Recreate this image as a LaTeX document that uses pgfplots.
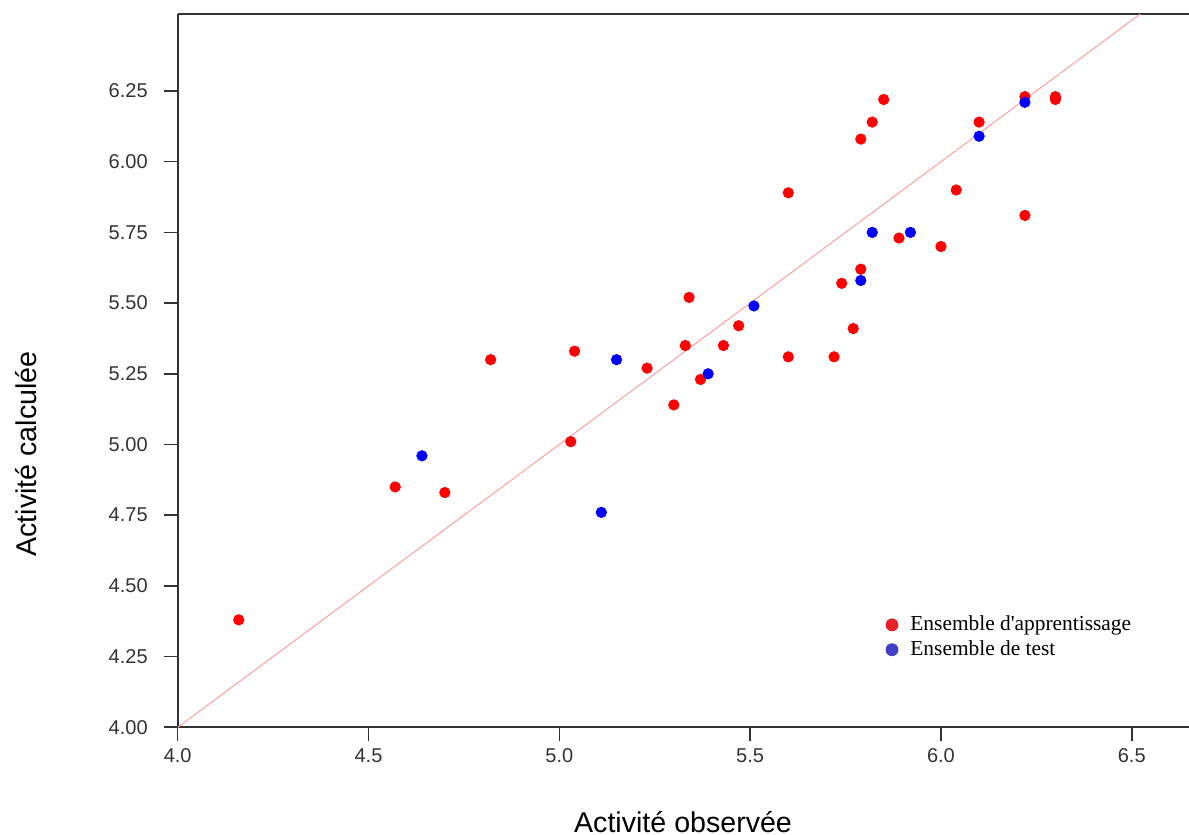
\documentclass[border=0pt]{standalone}
\usepackage{fontspec}
\setmainfont{Liberation Sans}
\newfontfamily\legendfont{Liberation Serif}
\usepackage{pgfplots}
\pgfplotsset{compat=1.18}
\definecolor{ptred}{HTML}{FF0000}
\definecolor{ptblue}{HTML}{0000FF}
\definecolor{legred}{HTML}{E8202A}
\definecolor{legblue}{HTML}{4040C8}
\definecolor{diag}{HTML}{FFA0A0}
\definecolor{axisgray}{HTML}{333333}

\begin{document}
\begin{tikzpicture}
% 1 px of the reference = 0.5pt
\path[use as bounding box] (-88.85pt,-53.85pt) rectangle (505.65pt,363.65pt);
\begin{axis}[
  scale only axis,
  width=505.65pt, height=356.4pt,
  xmin=4, xmax=6.65,
  ymin=4, ymax=6.5205,
  axis x line=box, axis y line*=left,
  axis line style={axisgray, line width=1pt},
  xtick pos=left, ytick pos=left,
  tick align=outside,
  major tick length=7pt,
  tick style={axisgray, line width=0.8pt},
  xtick={4,4.5,5,5.5,6,6.5},
  ytick={4,4.25,4.5,4.75,5,5.25,5.5,5.75,6,6.25},
  ticklabel style={font=\fontsize{10}{12}\selectfont, color=axisgray},
  /pgf/number format/assume math mode=true,
  xticklabel style={/pgf/number format/.cd, fixed, fixed zerofill, precision=1},
  yticklabel style={xshift=-4.5pt, /pgf/number format/.cd, fixed, fixed zerofill, precision=2},
  xlabel={Activité observée},
  ylabel={Activité calculée},
  label style={font=\fontsize{14.3}{16}\selectfont, color=black},
  xlabel style={at={(axis description cs:0.4997,-0.1469)}, anchor=base},
  ylabel style={at={(axis description cs:-0.1401,0.3834)}, anchor=base},
  legend style={at={(axis description cs:0.700,0.1624)}, anchor=north west,
    draw=none, fill=none, inner sep=0pt, row sep=-0.5pt,
    font=\legendfont\fontsize{10.7}{12}\selectfont},
  legend cell align=left,
  legend image code/.code={\draw[#1] plot coordinates {(0.1cm,0cm)};
    \path (0.1cm,0cm) ++(7pt,0pt);},
]
\addplot[diag, line width=0.5pt, forget plot] coordinates {(4,4) (6.6,6.6)};
\addplot[only marks, mark=*, mark size=2.6pt, color=ptred, forget plot] coordinates {
(4.16,4.38) (4.57,4.85) (4.70,4.83) (4.82,5.30) (5.03,5.01) (5.04,5.33)
(5.23,5.27) (5.30,5.14) (5.33,5.35) (5.34,5.52) (5.37,5.23) (5.43,5.35)
(5.47,5.42) (5.60,5.89) (5.60,5.31) (5.72,5.31) (5.74,5.57) (5.77,5.41)
(5.79,5.62) (5.79,6.08) (5.82,6.14) (5.85,6.22) (5.89,5.73) (6.00,5.70)
(6.04,5.90) (6.10,6.14) (6.22,6.23) (6.22,5.81) (6.30,6.22) (6.30,6.23)
};
\addplot[only marks, mark=*, mark size=2.6pt, color=ptblue, forget plot] coordinates {
(4.64,4.96) (5.11,4.76) (5.15,5.30) (5.39,5.25) (5.51,5.49)
(5.79,5.58) (5.82,5.75) (5.92,5.75) (6.10,6.09) (6.22,6.21)
};
\addlegendimage{only marks, mark=*, mark size=3pt, color=legred}
\addlegendentry{Ensemble d'apprentissage}
\addlegendimage{only marks, mark=*, mark size=3pt, color=legblue}
\addlegendentry{Ensemble de test}
\end{axis}
\end{tikzpicture}
\end{document}
